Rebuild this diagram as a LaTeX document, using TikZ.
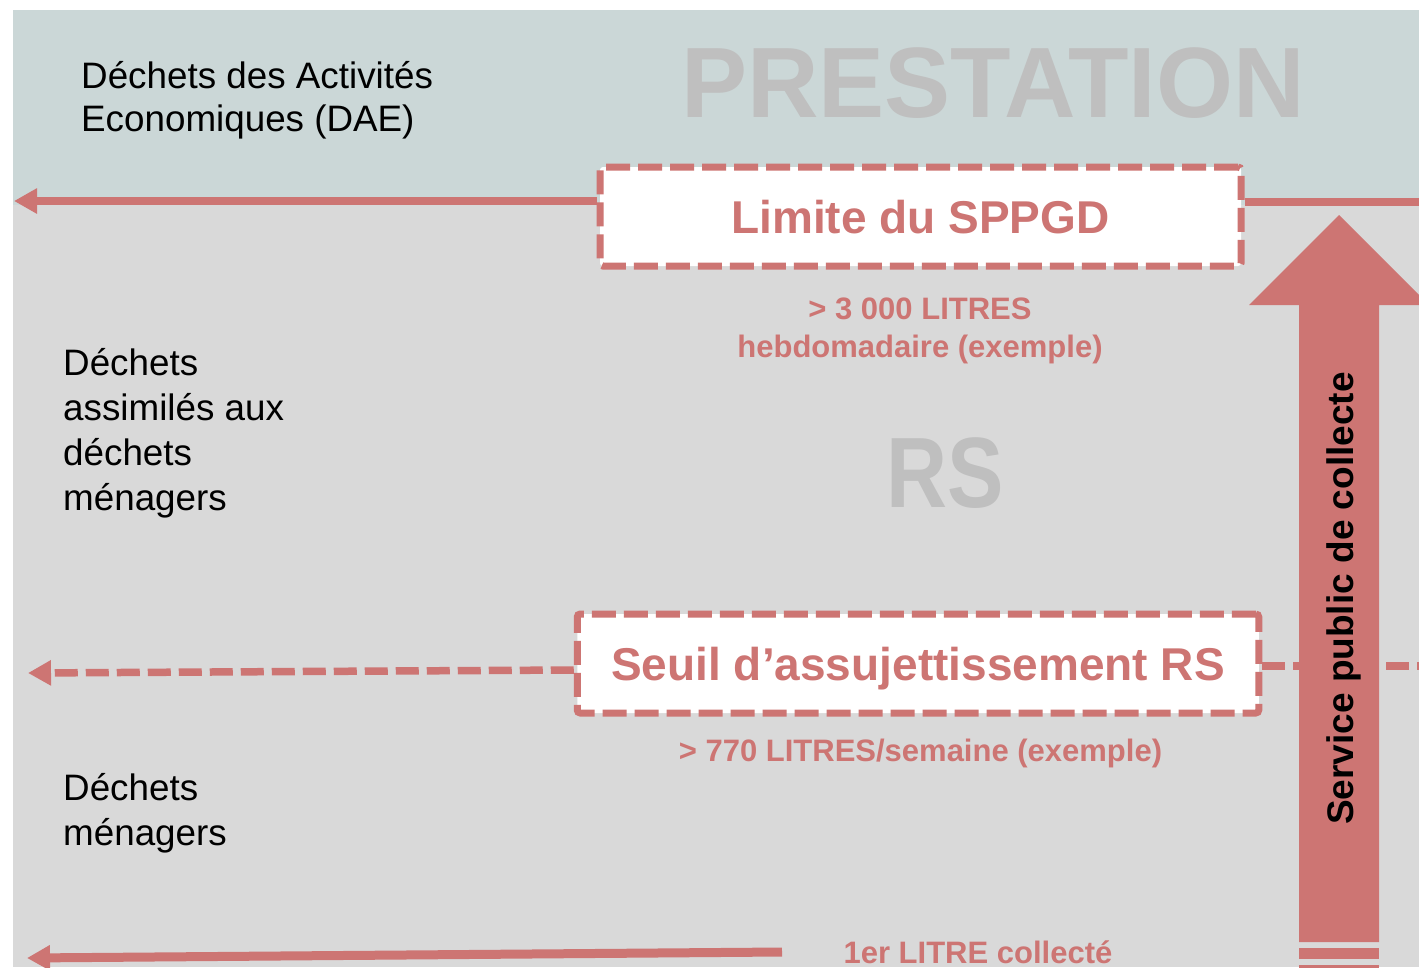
\documentclass[tikz,border=0pt]{standalone}
\usepackage{fontspec}
\usepackage{graphicx}
\setmainfont{Liberation Sans}
\usetikzlibrary{arrows.meta}
\definecolor{rsrouge}{RGB}{205,117,115}
\definecolor{bandeau}{RGB}{203,215,215}
\definecolor{fondgris}{RGB}{217,217,217}
\definecolor{titregris}{RGB}{191,191,191}

\begin{document}
\begin{tikzpicture}[x=1pt, y=-1pt,
    txtnoir/.style={anchor=base west, align=left, inner sep=0pt, font=\fontsize{36.8}{45}\selectfont},
    txtrouge/.style={anchor=base, align=center, inner sep=0pt, text=rsrouge, font=\bfseries\fontsize{31}{38}\selectfont},
    grostitre/.style={anchor=base, inner sep=0pt, text=titregris, font=\bfseries\fontsize{100}{100}\selectfont},
    boite/.style={draw=rsrouge, fill=white, line width=7pt, dash pattern=on 24pt off 8pt,
        rounded corners=3pt, inner sep=0pt, minimum height=99pt, text=rsrouge,
        font=\bfseries\fontsize{46}{46}\selectfont, text height=34pt, text depth=0pt},
    fleche/.style={rsrouge, line width=8pt, -{Triangle[length=23pt,width=24pt]}}]
        % Fond
        \clip (0,0) rectangle (1419,967);
        \fill[white] (0,0) rectangle (1419,967);
        \fill[fondgris] (13,10) rectangle (1419,967);
        \fill[bandeau] (13,10) rectangle (1419,205);

        % Grands titres
        \node[grostitre] (prest) at (993,117) {\scalebox{0.99}[1]{PRESTATION}};
        \node[grostitre] (rs) at (945,507) {\scalebox{0.845}[1]{RS}};

        % Categories de dechets (base = derniere ligne)
        \node[txtnoir] (dae) at (81,131) {Déchets des Activités\\[-2pt]Economiques (DAE)};
        \node[txtnoir] (assim) at (63,510) {Déchets\\assimilés aux\\déchets\\ménagers};
        \node[txtnoir] (menag) at (63,845) {Déchets\\ménagers};

        % Limites
        \node[boite, minimum width=641pt] (limite) at (920.5,216.5) {Limite du SPPGD};
        \node[boite, minimum width=681.5pt] (seuil) at (918,663.5) {Seuil d’assujettissement RS};

        \coordinate (daeG) at (14,201);
        \coordinate (daeD) at (1419,202);
        \draw[fleche] (limite.west |- daeG) -- (daeG);
        \draw[rsrouge, line width=8pt] (limite.east |- daeD) -- (daeD);

        \coordinate (seuilG) at (28,673);
        \coordinate (seuilD) at (1419,666);
        \draw[fleche, line width=7.5pt, dash pattern=on 23pt off 8pt] ([yshift=-6.5pt]seuil.west) -- (seuilG);
        \draw[rsrouge, line width=7.5pt, dash pattern=on 23pt off 8pt] ([yshift=-2.5pt]seuil.east) -- (seuilD);

        \coordinate (litreD) at (782,952);
        \coordinate (litreG) at (27,958);
        \draw[fleche, line width=9pt] (litreD) -- (litreG);

        % Volumes
        \node[txtrouge] (vol1) at (920,357) {> 3 000 LITRES\\hebdomadaire (exemple)};
        \node[txtrouge] (vol2) at (920.5,761) {> 770 LITRES/semaine (exemple)};
        \node[txtrouge] (litre) at (978,963) {1er LITRE collecté};

        % Service public
        \fill[rsrouge] (1299,942) -- (1299,305) -- (1249,305) -- (1339,215)
            -- (1429,305) -- (1379,305) -- (1379,942) -- cycle;
        \fill[rsrouge] (1299,948) rectangle (1379,959);
        \fill[rsrouge] (1299,965) rectangle (1379,975);
        \node[rotate=90, anchor=base, inner sep=0pt, font=\bfseries\fontsize{37}{37}\selectfont] (spc) at (1353,598.5) {Service public de collecte};
\end{tikzpicture}
\end{document}
